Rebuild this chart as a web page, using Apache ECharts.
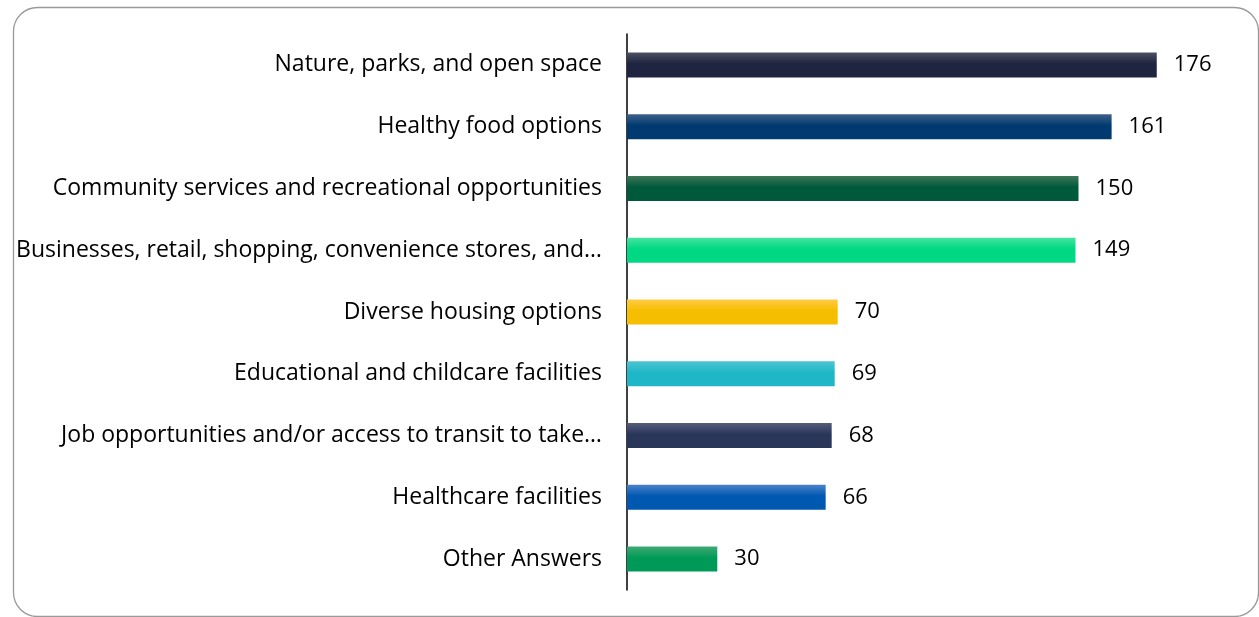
<!DOCTYPE html>
<html><head><meta charset="utf-8">
<script src="https://cdn.jsdelivr.net/npm/echarts@6/dist/echarts.min.js"></script>
<style>html,body{margin:0;padding:0;background:#fff}#c{width:1259px;height:617px}</style>
</head><body><div id="c"></div>
<script>
const categories = [
  "Nature, parks, and open space",
  "Healthy food options",
  "Community services and recreational opportunities",
  "Businesses, retail, shopping, convenience stores, and…",
  "Diverse housing options",
  "Educational and childcare facilities",
  "Job opportunities and/or access to transit to take…",
  "Healthcare facilities",
  "Other Answers"
];
const values = [176, 161, 150, 149, 70, 69, 68, 66, 30];
const topColors = ["#4d5163", "#40618a", "#3f7659", "#45e49e", "#ffcb45", "#4fc4d1", "#555d7a", "#4a82ca", "#3ea972"];
const baseColors = ["#1f2440", "#003a70", "#00593a", "#00d884", "#f6be00", "#1fb7c7", "#2a355a", "#0058b0", "#009a58"];

const chart = echarts.init(document.getElementById('c'), null, {renderer: 'canvas'});
const data = values.map((v, i) => ({
  value: v,
  itemStyle: {
    color: new echarts.graphic.LinearGradient(0, 0, 0, 1, [
      {offset: 0, color: topColors[i]},
      {offset: 0.45, color: baseColors[i]},
      {offset: 1, color: baseColors[i]}
    ])
  }
}));
chart.setOption({
  animation: false,
  graphic: [{
    type: 'rect', left: 11, top: 5, silent: true,
    shape: {width: 1245, height: 609, r: 24},
    style: {fill: 'none', stroke: '#9a9a9a', lineWidth: 1.3}
  }],
  grid: {left: 627, top: 34, width: 602, height: 556, containLabel: false},
  xAxis: {type: 'value', min: 0, max: 200, show: false},
  yAxis: {
    type: 'category', inverse: true, data: categories,
    axisLine: {show: true, lineStyle: {color: '#000', width: 1.5}},
    axisTick: {show: false},
    axisLabel: {color: '#000', fontSize: 23, fontFamily: '"Open Sans", sans-serif', margin: 25}
  },
  series: [{
    type: 'bar', data: data, barWidth: 25,
    label: {show: true, position: 'right', distance: 17, color: '#000', fontSize: 22, fontFamily: '"Open Sans", sans-serif'}
  }]
});
</script></body></html>
